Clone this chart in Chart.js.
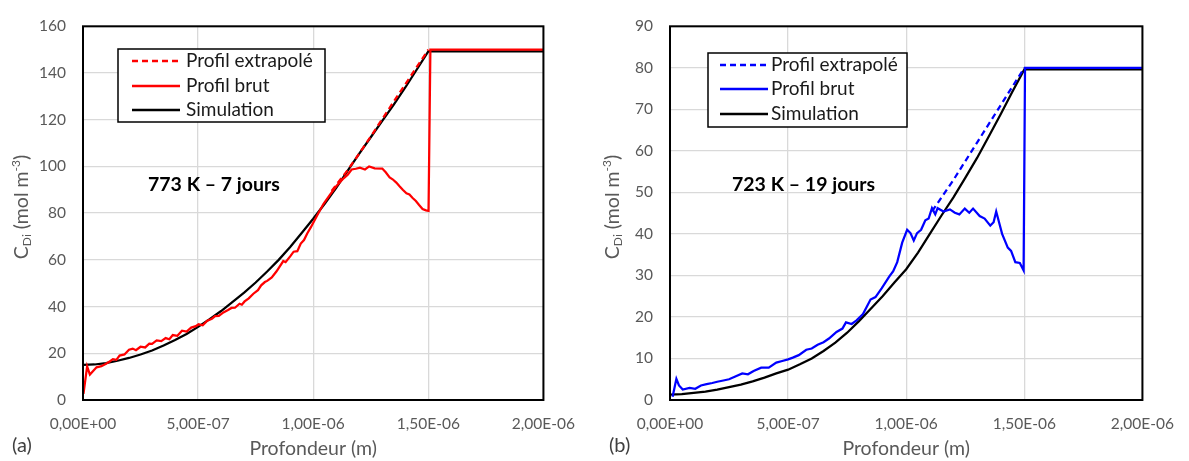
<!DOCTYPE html>
<html>
<head>
<meta charset="utf-8">
<script src="https://cdn.jsdelivr.net/npm/chart.js@4.4.0/dist/chart.umd.min.js"></script>
<style>
html, body { margin: 0; padding: 0; background: #fff; }
#wrapA { position: absolute; left: 0; top: 0; width: 590px; height: 461px; }
#wrapB { position: absolute; left: 590px; top: 0; width: 599px; height: 461px; }
</style>
</head>
<body>
<div id="wrapA"><canvas id="chartA"></canvas></div>
<div id="wrapB"><canvas id="chartB"></canvas></div>
<script>
// ---- data (depth in m, concentration in mol m-3) ----
const xTicks = [0, 5e-7, 1e-6, 1.5e-6, 2e-6];

// (a) 773 K - 7 jours
const simA_x = [0, 0.5e-7, 1e-7, 1.5e-7, 2e-7, 2.5e-7, 3e-7, 3.5e-7, 4e-7, 4.5e-7, 5e-7, 5.5e-7, 6e-7, 6.5e-7, 7e-7, 7.5e-7, 8e-7, 8.5e-7, 9e-7, 9.5e-7, 1e-6, 1.05e-6, 1.1e-6, 1.15e-6, 1.2e-6, 1.25e-6, 1.3e-6, 1.35e-6, 1.4e-6, 1.45e-6, 1.5e-6, 2e-6];
const simA_y = [15, 15.2, 15.8, 16.8, 18, 19.5, 21.2, 23.3, 25.7, 28.3, 31.3, 34.6, 38.1, 42, 46, 50.3, 55, 60, 65.5, 71.5, 77.6, 84, 90.8, 98.2, 105.5, 112.5, 119.5, 126.5, 133.8, 141.5, 149.3, 149.3];

const extA_x = [1.08e-6, 1.15e-6, 1.2e-6, 1.25e-6, 1.3e-6, 1.35e-6, 1.4e-6, 1.45e-6, 1.5e-6];
const extA_y = [89.5, 98.5, 105.5, 112.8, 120.3, 127.8, 135.2, 142.6, 150];

const brutA_x = [0.002e-6, 0.018e-6, 0.03e-6, 0.045e-6, 0.059e-6, 0.08e-6, 0.1e-6, 0.116e-6, 0.13e-6, 0.145e-6, 0.159e-6, 0.18e-6, 0.2e-6, 0.216e-6, 0.23e-6, 0.25e-6, 0.27e-6, 0.288e-6, 0.3e-6, 0.32e-6, 0.34e-6, 0.359e-6, 0.375e-6, 0.39e-6, 0.41e-6, 0.43e-6, 0.45e-6, 0.47e-6, 0.49e-6, 0.502e-6, 0.52e-6, 0.54e-6, 0.56e-6, 0.574e-6, 0.59e-6, 0.61e-6, 0.63e-6, 0.645e-6, 0.66e-6, 0.68e-6, 0.69e-6, 0.702e-6, 0.72e-6, 0.74e-6, 0.76e-6, 0.774e-6, 0.79e-6, 0.8e-6, 0.82e-6, 0.84e-6, 0.85e-6, 0.87e-6, 0.88e-6, 0.9e-6, 0.915e-6, 0.931e-6, 0.946e-6, 0.96e-6, 0.974e-6, 0.99e-6, 1.017e-6, 1.045e-6, 1.074e-6, 1.1e-6, 1.132e-6, 1.15e-6, 1.167e-6, 1.185e-6, 1.203e-6, 1.225e-6, 1.243e-6, 1.267e-6, 1.3e-6, 1.315e-6, 1.332e-6, 1.345e-6, 1.361e-6, 1.375e-6, 1.389e-6, 1.405e-6, 1.418e-6, 1.432e-6, 1.446e-6, 1.46e-6, 1.475e-6, 1.49e-6, 1.501e-6, 1.509e-6, 2e-6];
const brutA_y = [2.6, 14.4, 10.9, 12.5, 14, 14.5, 15.5, 16.5, 17.5, 17.2, 19, 19.5, 21.5, 22, 21.3, 22.8, 22.5, 24.1, 24, 25.5, 25.2, 26.5, 26, 27.8, 27.5, 29.7, 29.3, 31, 31.6, 32.4, 32, 34, 34.8, 35.9, 36, 37.5, 38.5, 39.4, 39.5, 41.2, 40.8, 42.2, 43.5, 45.5, 47, 49.1, 50.5, 51, 52.5, 55, 56.5, 59.5, 59, 61.5, 63.5, 63.7, 67, 68.5, 71.3, 74, 79, 84, 88, 91.5, 94.9, 96.5, 98.7, 99, 99.5, 98.7, 100, 99.2, 99.1, 97.5, 95.3, 94.5, 93.1, 91.5, 90, 88.5, 88, 86.5, 85.2, 83.5, 81.8, 81.2, 81, 150, 150];

// (b) 723 K - 19 jours
const simB_x = [0, 0.5e-7, 1e-7, 1.5e-7, 2e-7, 2.5e-7, 3e-7, 3.5e-7, 4e-7, 4.5e-7, 5e-7, 5.5e-7, 6e-7, 6.5e-7, 7e-7, 7.5e-7, 8e-7, 8.5e-7, 9e-7, 9.5e-7, 1e-6, 1.05e-6, 1.1e-6, 1.15e-6, 1.2e-6, 1.25e-6, 1.3e-6, 1.35e-6, 1.4e-6, 1.45e-6, 1.5e-6, 2e-6];
const simB_y = [1.3, 1.4, 1.7, 2.0, 2.5, 3.1, 3.7, 4.5, 5.4, 6.4, 7.3, 8.6, 10, 11.8, 13.8, 16.2, 19, 22, 25, 28.3, 31.5, 35.5, 40, 44.5, 48.8, 53.5, 58.3, 63.5, 68.8, 74.3, 79.6, 79.6];

const extB_x = [1.11e-6, 1.2e-6, 1.3e-6, 1.4e-6, 1.5e-6];
const extB_y = [45.5, 53, 62, 71, 80];

const brutB_x = [0.011e-6, 0.027e-6, 0.038e-6, 0.054e-6, 0.083e-6, 0.107e-6, 0.131e-6, 0.155e-6, 0.179e-6, 0.2e-6, 0.226e-6, 0.25e-6, 0.274e-6, 0.306e-6, 0.33e-6, 0.354e-6, 0.386e-6, 0.418e-6, 0.45e-6, 0.475e-6, 0.5e-6, 0.52e-6, 0.545e-6, 0.577e-6, 0.6e-6, 0.625e-6, 0.65e-6, 0.673e-6, 0.705e-6, 0.73e-6, 0.745e-6, 0.769e-6, 0.79e-6, 0.817e-6, 0.849e-6, 0.87e-6, 0.896e-6, 0.928e-6, 0.945e-6, 0.962e-6, 0.983e-6, 1.004e-6, 1.018e-6, 1.032e-6, 1.046e-6, 1.063e-6, 1.081e-6, 1.095e-6, 1.109e-6, 1.123e-6, 1.133e-6, 1.158e-6, 1.185e-6, 1.206e-6, 1.225e-6, 1.248e-6, 1.267e-6, 1.283e-6, 1.311e-6, 1.332e-6, 1.356e-6, 1.37e-6, 1.381e-6, 1.406e-6, 1.43e-6, 1.444e-6, 1.462e-6, 1.481e-6, 1.497e-6, 1.503e-6, 2e-6];
const brutB_y = [0.8, 5.1, 3.5, 2.5, 2.9, 2.7, 3.5, 3.8, 4.1, 4.4, 4.7, 5.0, 5.6, 6.4, 6.2, 7.0, 7.8, 7.8, 9.0, 9.4, 9.8, 10.2, 10.8, 12.1, 12.4, 13.3, 13.9, 14.8, 16.4, 17.2, 18.7, 18.3, 19.2, 20.7, 24.2, 24.8, 26.9, 29.7, 31, 33.2, 37.9, 41, 40.2, 38.4, 40.2, 41, 43.3, 43.7, 46.2, 44.7, 46.2, 45.4, 45.9, 45.1, 44.7, 46.1, 45.1, 46.1, 44.3, 43.7, 42, 42.8, 45.4, 40, 36.7, 35.9, 33.2, 33, 31.2, 80, 80];

const FONT = 'Lato, "Open Sans", sans-serif';
const GREY = '#595959';

function pts(xs, ys) {
    return xs.map((x, i) => ({ x: x, y: ys[i] }));
}

function sciLabel(v) {
    const parts = Number(v).toExponential(2).split('e');
    const exp = parseInt(parts[1], 10);
    const sign = exp < 0 ? '-' : '+';
    return parts[0].replace('.', ',') + 'E' + sign + String(Math.abs(exp)).padStart(2, '0');
}

// frame, legend box, annotation and axis titles
const decorPlugin = {
    id: 'decor',
    afterDatasetsDraw(chart) {
        const o = chart.options.plugins.decor;
        const ctx = chart.ctx;
        const a = chart.chartArea;
        ctx.save();

        // plot frame
        ctx.strokeStyle = '#000';
        ctx.lineWidth = 2;
        ctx.strokeRect(a.left, a.top, a.right - a.left, a.bottom - a.top);

        // legend box
        const lg = o.legend;
        ctx.fillStyle = '#fff';
        ctx.fillRect(lg.x, lg.y, lg.w, lg.h);
        ctx.lineWidth = 1.5;
        ctx.strokeStyle = '#000';
        ctx.strokeRect(lg.x, lg.y, lg.w, lg.h);
        const order = [1, 2, 0];
        order.forEach((di, row) => {
            const ds = chart.data.datasets[di];
            const yy = lg.rowY[row];
            ctx.beginPath();
            ctx.setLineDash(ds.borderDash || []);
            ctx.strokeStyle = ds.borderColor;
            ctx.lineWidth = 2.5;
            ctx.moveTo(lg.lineX0, yy);
            ctx.lineTo(lg.lineX1, yy);
            ctx.stroke();
            ctx.setLineDash([]);
            ctx.fillStyle = '#1a1a1a';
            ctx.font = '19px ' + FONT;
            ctx.textBaseline = 'middle';
            ctx.textAlign = 'left';
            ctx.fillText(ds.label, lg.textX, yy);
        });

        // annotation
        ctx.font = 'bold 19.5px ' + FONT;
        ctx.fillStyle = '#000';
        ctx.textBaseline = 'middle';
        ctx.fillText(o.note.text, o.note.x, o.note.y);

        // x title + panel tag
        ctx.fillStyle = GREY;
        ctx.font = '19.5px ' + FONT;
        ctx.textAlign = 'center';
        ctx.fillText('Profondeur (m)', (a.left + a.right) / 2, o.xTitleY);
        ctx.textAlign = 'left';
        ctx.fillStyle = '#404040';
        ctx.font = '20px ' + FONT;
        ctx.fillText(o.tag.text, o.tag.x, o.tag.y);

        // y title: C_Di (mol m^-3)
        const parts = [
            ['C', 19.5, 0], ['Di', 12, 5], [' (mol m', 19.5, 0], ['-3', 12, -6], [')', 19.5, 0]
        ];
        let total = 0;
        parts.forEach(p => { ctx.font = p[1] + 'px ' + FONT; total += ctx.measureText(p[0]).width; });
        ctx.translate(o.yTitle.x, o.yTitle.y);
        ctx.rotate(-Math.PI / 2);
        ctx.fillStyle = GREY;
        ctx.textBaseline = 'middle';
        let cx = -total / 2;
        parts.forEach(p => {
            ctx.font = p[1] + 'px ' + FONT;
            ctx.fillText(p[0], cx, p[2]);
            cx += ctx.measureText(p[0]).width;
        });
        ctx.restore();
    }
};

function makeChart(id, cfg) {
    const ctx = document.getElementById(id);
    return new Chart(ctx.getContext('2d'), {
        type: 'scatter',
        data: {
            datasets: [
                { label: 'Simulation', data: cfg.sim, borderColor: '#000', order: 3 },
                { label: 'Profil extrapolé', data: cfg.ext, borderColor: cfg.color, borderDash: [6, 4], order: 2 },
                { label: 'Profil brut', data: cfg.brut, borderColor: cfg.color, order: 1 }
            ].map(d => Object.assign({ showLine: true, pointRadius: 0, borderWidth: 2.25, tension: 0, fill: false }, d))
        },
        options: {
            responsive: true,
            maintainAspectRatio: false,
            animation: false,
            layout: { padding: { left: 0, top: cfg.padTop, right: 41, bottom: 0 } },
            scales: {
                x: {
                    type: 'linear',
                    min: 0,
                    max: 2e-6,
                    afterBuildTicks: s => { s.ticks = xTicks.map(v => ({ value: v })); },
                    afterFit: s => { s.height = 61; },
                    grid: { color: '#d9d9d9', lineWidth: 1.3, drawTicks: false },
                    border: { display: false },
                    ticks: { padding: 15, color: GREY, font: { family: FONT, size: 15.5 }, maxRotation: 0, callback: v => sciLabel(v) }
                },
                y: {
                    min: 0,
                    max: cfg.yMax,
                    afterFit: s => { s.width = cfg.yWidth; },
                    grid: { color: '#d9d9d9', lineWidth: 1.3, drawTicks: false },
                    border: { display: false },
                    ticks: { stepSize: cfg.yStep, padding: 17, color: GREY, font: { family: FONT, size: 15.5 } }
                }
            },
            plugins: {
                legend: { display: false },
                tooltip: { enabled: false },
                decor: cfg.decor
            }
        },
        plugins: [decorPlugin]
    });
}

makeChart('chartA', {
    sim: pts(simA_x, simA_y), ext: pts(extA_x, extA_y), brut: pts(brutA_x, brutA_y),
    color: '#ff0000', yMax: 160, yStep: 20, yWidth: 83, padTop: 15.5,
    decor: {
        legend: { x: 118, y: 49, w: 207, h: 73, rowY: [61, 86, 110], lineX0: 132, lineX1: 180, textX: 186 },
        note: { text: '773 K – 7 jours', x: 148, y: 185 },
        xTitleY: 449,
        tag: { text: '(a)', x: 12, y: 446 },
        yTitle: { x: 22, y: 207 }
    }
});

makeChart('chartB', {
    sim: pts(simB_x, simB_y), ext: pts(extB_x, extB_y), brut: pts(brutB_x, brutB_y),
    color: '#0000ff', yMax: 90, yStep: 10, yWidth: 80, padTop: 15.7,
    decor: {
        legend: { x: 118, y: 53, w: 199, h: 74, rowY: [65, 89, 114], lineX0: 130, lineX1: 178, textX: 181 },
        note: { text: '723 K – 19 jours', x: 142, y: 185 },
        xTitleY: 449,
        tag: { text: '(b)', x: 19, y: 446 },
        yTitle: { x: 23, y: 207 }
    }
});
</script>
</body>
</html>
